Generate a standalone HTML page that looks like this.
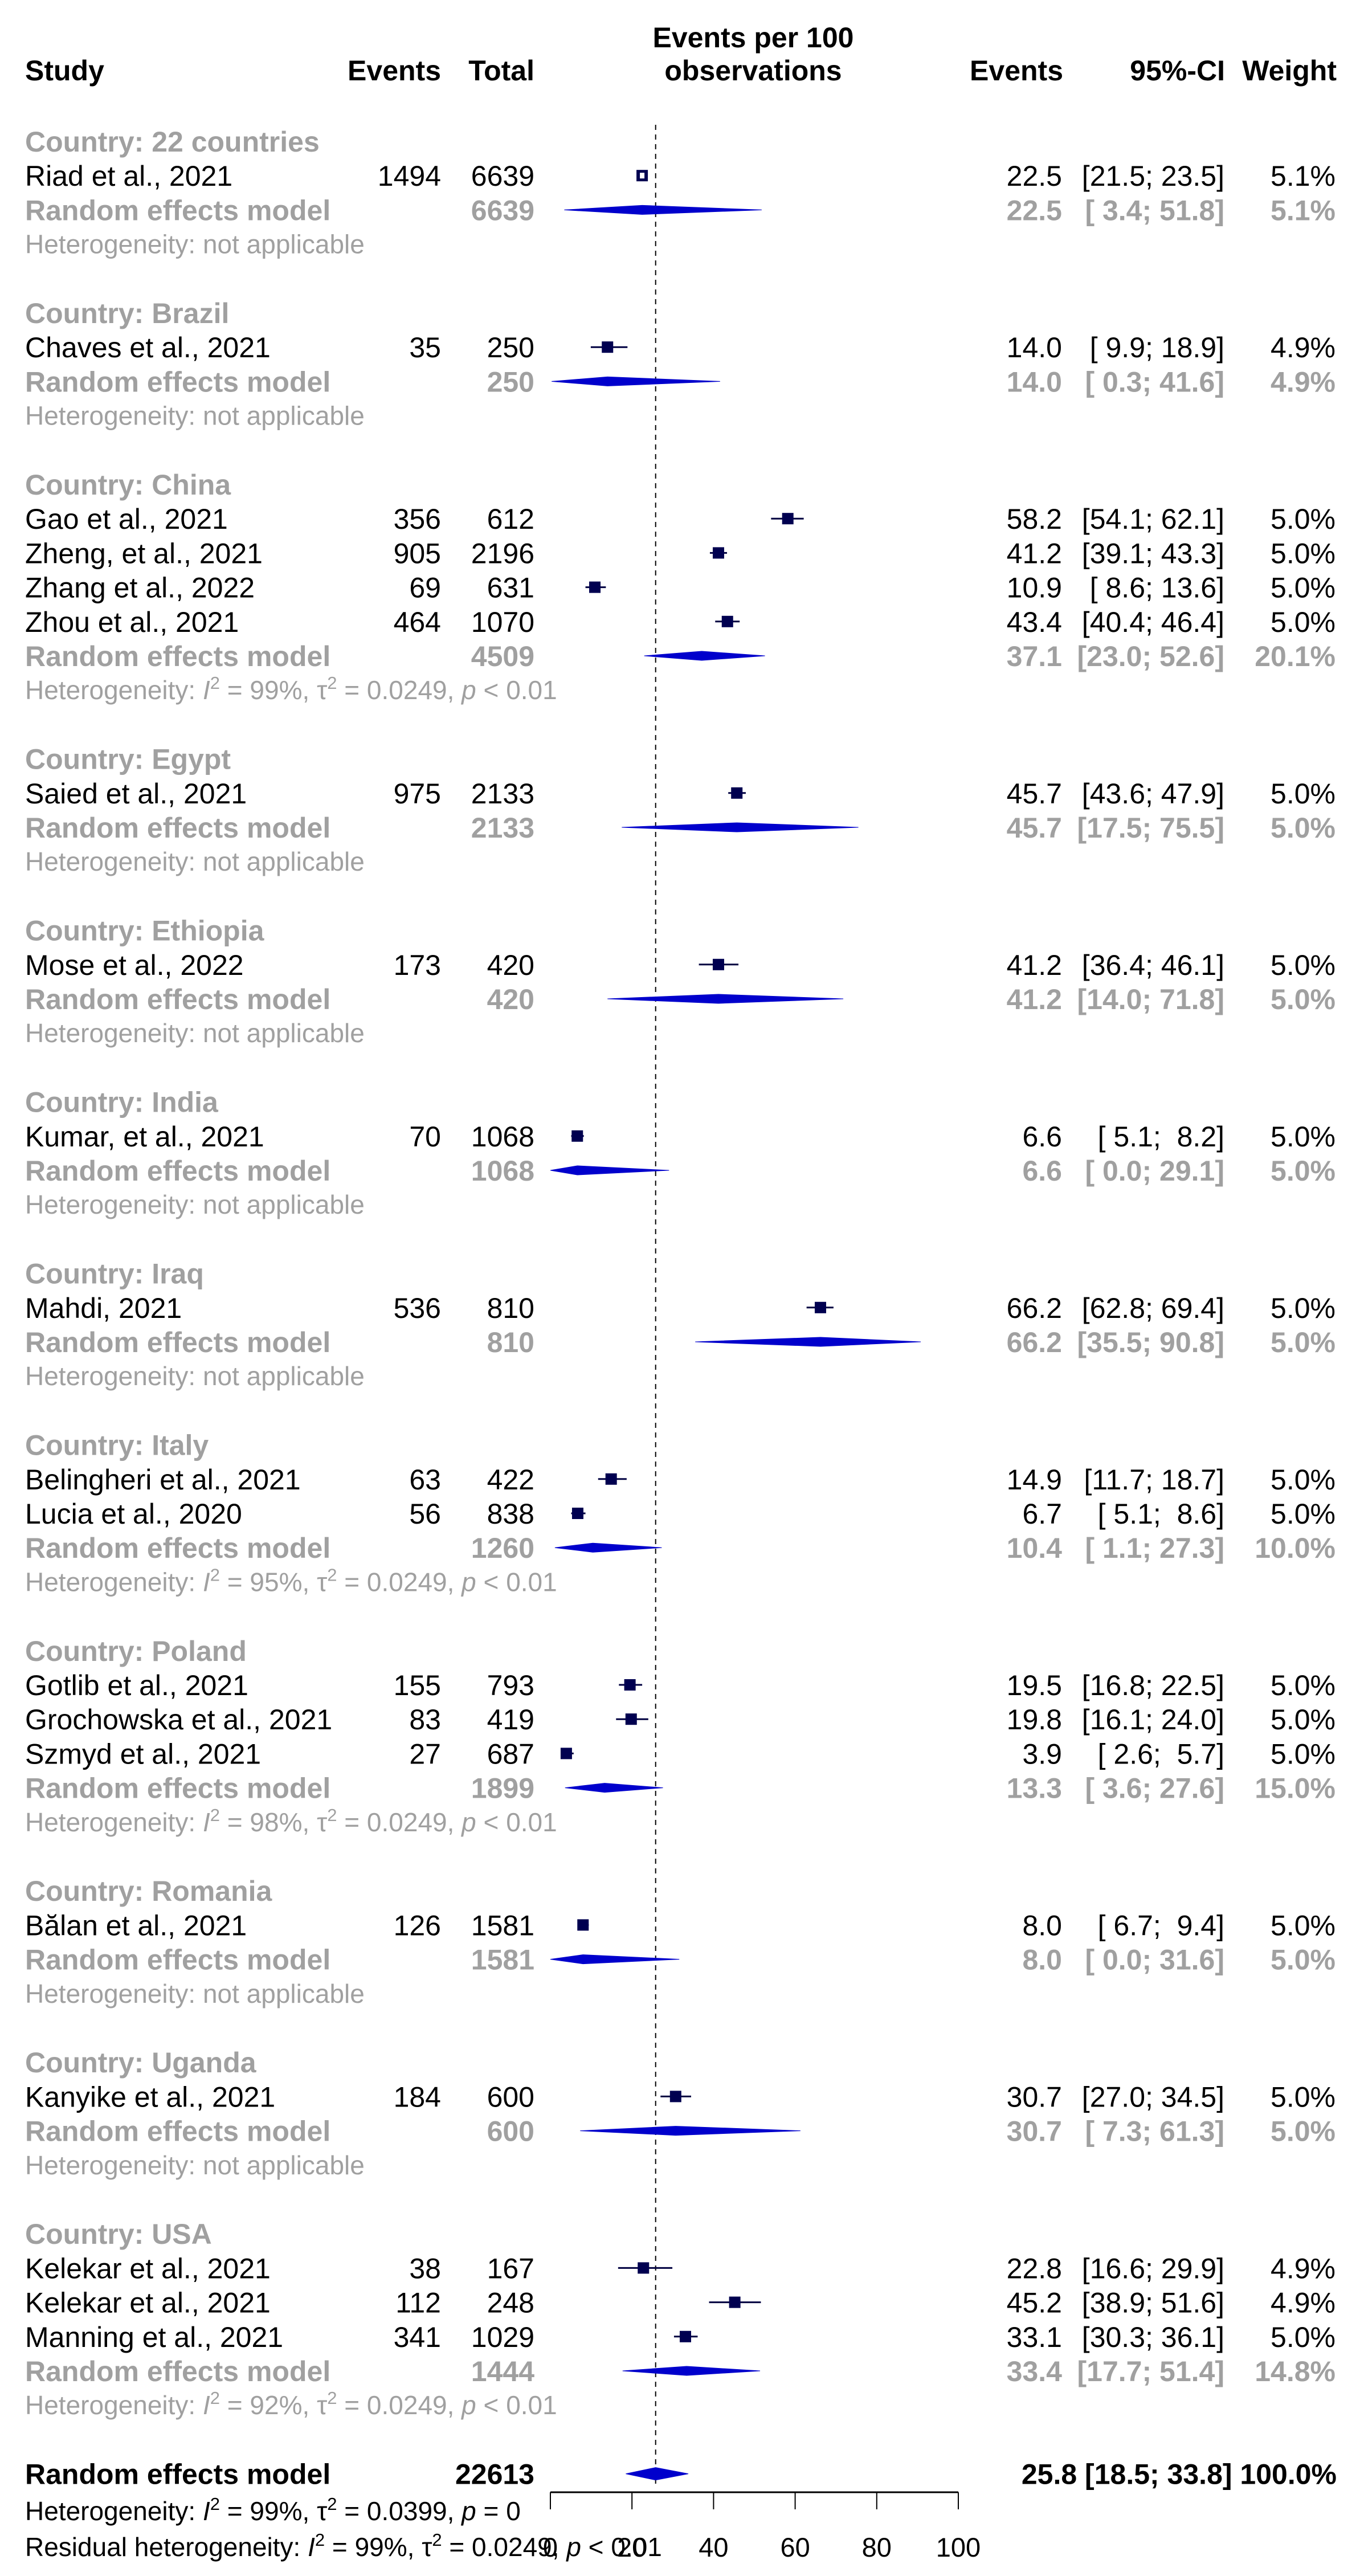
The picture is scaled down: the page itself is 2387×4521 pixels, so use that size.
<!DOCTYPE html>
<html><head><meta charset="utf-8"><style>
html,body{margin:0;padding:0;background:#fff;}
svg{display:block;font-family:"Liberation Sans",Arial,sans-serif;}
</style></head><body>
<svg id="plot" width="2387" height="4521" viewBox="0 0 2387 4521" xmlns="http://www.w3.org/2000/svg">
<g id="hdr" font-weight="bold" font-size="50" fill="#000">
<text x="44" y="141">Study</text>
<text x="774" y="141" text-anchor="end">Events</text>
<text x="938" y="141" text-anchor="end">Total</text>
<text x="1322" y="83" text-anchor="middle">Events per 100</text>
<text x="1322" y="141" text-anchor="middle">observations</text>
<text x="1866" y="141" text-anchor="end">Events</text>
<text x="2150" y="141" text-anchor="end">95%-CI</text>
<text x="2346" y="141" text-anchor="end">Weight</text>
</g>
<g id="rows"></g>
<g id="marks"></g>
<g id="axis"></g>
</svg>
<script>
// Data arrays
const groupNames = ["22 countries","Brazil","China","Egypt","Ethiopia","India","Iraq","Italy","Poland","Romania","Uganda","USA"];
const studyNames = [["Riad et al., 2021"],["Chaves et al., 2021"],["Gao et al., 2021","Zheng, et al., 2021","Zhang et al., 2022","Zhou et al., 2021"],["Saied et al., 2021"],["Mose et al., 2022"],["Kumar, et al., 2021"],["Mahdi, 2021"],["Belingheri et al., 2021","Lucia et al., 2020"],["Gotlib et al., 2021","Grochowska et al., 2021","Szmyd et al., 2021"],["Bălan et al., 2021"],["Kanyike et al., 2021"],["Kelekar et al., 2021","Kelekar et al., 2021","Manning et al., 2021"]];
const studyEvents = [[1494],[35],[356,905,69,464],[975],[173],[70],[536],[63,56],[155,83,27],[126],[184],[38,112,341]];
const studyTotals = [[6639],[250],[612,2196,631,1070],[2133],[420],[1068],[810],[422,838],[793,419,687],[1581],[600],[167,248,1029]];
const studyEst = [[22.5],[14.0],[58.2,41.2,10.9,43.4],[45.7],[41.2],[6.6],[66.2],[14.9,6.7],[19.5,19.8,3.9],[8.0],[30.7],[22.8,45.2,33.1]];
const studyLo = [[21.5],[9.9],[54.1,39.1,8.6,40.4],[43.6],[36.4],[5.1],[62.8],[11.7,5.1],[16.8,16.1,2.6],[6.7],[27.0],[16.6,38.9,30.3]];
const studyHi = [[23.5],[18.9],[62.1,43.3,13.6,46.4],[47.9],[46.1],[8.2],[69.4],[18.7,8.6],[22.5,24.0,5.7],[9.4],[34.5],[29.9,51.6,36.1]];
const studyWeight = [["5.1%"],["4.9%"],["5.0%","5.0%","5.0%","5.0%"],["5.0%"],["5.0%"],["5.0%"],["5.0%"],["5.0%","5.0%"],["5.0%","5.0%","5.0%"],["5.0%"],["5.0%"],["4.9%","4.9%","5.0%"]];
const groupTotal = [6639,250,4509,2133,420,1068,810,1260,1899,1581,600,1444];
const groupEst = [22.5,14.0,37.1,45.7,41.2,6.6,66.2,10.4,13.3,8.0,30.7,33.4];
const groupLo = [3.4,0.3,23.0,17.5,14.0,0.0,35.5,1.1,3.6,0.0,7.3,17.7];
const groupHi = [51.8,41.6,52.6,75.5,71.8,29.1,90.8,27.3,27.6,31.6,61.3,51.4];
const groupWeight = ["5.1%","4.9%","20.1%","5.0%","5.0%","5.0%","5.0%","10.0%","15.0%","5.0%","5.0%","14.8%"];
const groupI2 = [null,null,"99%",null,null,null,null,"95%","98%",null,null,"92%"];
const overall = {total:22613, est:25.8, lo:18.5, hi:33.8, weight:"100.0%"};
const ticks = [0,20,40,60,80,100];

const NS = "http://www.w3.org/2000/svg";
const xS = v => 966 + v * 7.16;
const yR = r => 248 + r * 60.2;
const GREY = "#a0a0a0";
const FS = 50, HFS = 46;
const rowsG = document.getElementById('rows');
const marksG = document.getElementById('marks');
const axisG = document.getElementById('axis');

function el(tag, attrs, parent){ const e=document.createElementNS(NS,tag); for(const k in attrs) e.setAttribute(k,attrs[k]); parent.appendChild(e); return e; }
function txt(s,x,y,opts,parent){ const t=el('text',Object.assign({x:x,y:y,'font-size':FS},opts||{}),parent); t.setAttribute('xml:space','preserve'); t.style.whiteSpace='pre'; t.textContent=s; return t; }
function fmt(v){ return v.toFixed(1); }
function ci(lo,hi){ const a=fmt(lo), b=fmt(hi); return "[" + (a.length<4?" ":"") + a + "; " + (b.length<4?" ":"") + b + "]"; }
function hetText(i2,y,parent,color,pText){
  const t=el('text',{x:44,y:y,'font-size':HFS,fill:color},parent);
  t.setAttribute('xml:space','preserve');
  const parts=[["Heterogeneity: ",{}],["I",{'font-style':'italic'}],["2",{'font-size':31,dy:-18}],[" = "+i2+", ",{dy:18}],["τ",{}],["2",{'font-size':31,dy:-18}],[" = 0.0249, ",{dy:18}],["p",{'font-style':'italic'}],[pText,{}]];
  parts.forEach(p=>{const s=el('tspan',p[1],t); s.textContent=p[0];});
  return t;
}
function diamond(est,lo,hi,y,h,parent){
  return el('polygon',{points:`${xS(lo)},${y} ${xS(est)},${y-h/2} ${xS(hi)},${y} ${xS(est)},${y+h/2}`,fill:'#0000cc',stroke:'#0000cc','stroke-width':1},parent);
}

const dl = el('line',{x1:xS(overall.est),x2:xS(overall.est),y1:219,y2:4362,stroke:'#000','stroke-width':2,'stroke-dasharray':'9,8'},marksG);



let r = 0;
groupNames.forEach((g,gi)=>{
  const gh = txt("Country: "+g,44,yR(r)+18,{fill:GREY,'font-weight':'bold'},rowsG);
  
  
  r++;
  studyNames[gi].forEach((s,si)=>{
    const y=yR(r);
    const row=el('g',{},rowsG);
    
    
    txt(s,44,y+18,{fill:'#000'},row);
    txt(String(studyEvents[gi][si]),774,y+18,{fill:'#000','text-anchor':'end'},row);
    txt(String(studyTotals[gi][si]),938,y+18,{fill:'#000','text-anchor':'end'},row);
    txt(fmt(studyEst[gi][si]),1864,y+18,{fill:'#000','text-anchor':'end'},row);
    txt(ci(studyLo[gi][si],studyHi[gi][si]),2149,y+18,{fill:'#000','text-anchor':'end'},row);
    txt(studyWeight[gi][si],2344,y+18,{fill:'#000','text-anchor':'end'},row);
    const ln=el('line',{x1:xS(studyLo[gi][si]),x2:xS(studyHi[gi][si]),y1:y,y2:y,stroke:'#000040','stroke-width':3},marksG);
    
    
    const sz = 20;
    const sq=el('rect',{x:xS(studyEst[gi][si])-sz/2,y:y-sz/2,width:sz,height:sz,fill:'#000050'},marksG);
    
    
    if (studyHi[gi][si]-studyLo[gi][si] < 2.5) {
      const inner=el('rect',{x:xS(studyEst[gi][si])-4,y:y-5,width:8,height:10,fill:'#fff'},marksG);
      
      
    }
    r++;
  });
  const y=yR(r);
  const rem=el('g',{'font-weight':'bold'},rowsG);
  
  
  txt("Random effects model",44,y+18,{fill:GREY},rem);
  txt(String(groupTotal[gi]),938,y+18,{fill:GREY,'text-anchor':'end'},rem);
  txt(fmt(groupEst[gi]),1864,y+18,{fill:GREY,'text-anchor':'end'},rem);
  txt(ci(groupLo[gi],groupHi[gi]),2149,y+18,{fill:GREY,'text-anchor':'end'},rem);
  txt(groupWeight[gi],2344,y+18,{fill:GREY,'text-anchor':'end'},rem);
  const d=diamond(groupEst[gi],groupLo[gi],groupHi[gi],y,16,marksG);
  
  
  r++;
  const hy=yR(r)+16;
  let h;
  if (groupI2[gi]) h=hetText(groupI2[gi],hy,rowsG,GREY," < 0.01");
  else { h=txt("Heterogeneity: not applicable",44,hy,{fill:GREY,'font-size':HFS},rowsG); }
  
  
  r+=2;
});

{
  const y=yR(68);
  const og=el('g',{'font-weight':'bold'},rowsG);
  
  
  txt("Random effects model",44,y+18,{fill:'#000'},og);
  txt(String(overall.total),938,y+18,{fill:'#000','text-anchor':'end'},og);
  txt(fmt(overall.est)+" "+ci(overall.lo,overall.hi)+" "+overall.weight,2346,y+18,{fill:'#000','text-anchor':'end'},og);
  const d=diamond(overall.est,overall.lo,overall.hi,y,22,marksG);
  
  
  const h1=hetText("99%",4423,rowsG,'#000',"");
  h1.lastChild.textContent=" = 0";
  h1.childNodes[6].textContent=" = 0.0399, ";
  
  
  const h2=hetText("99%",4486,rowsG,'#000'," < 0.01");
  h2.firstChild.textContent="Residual heterogeneity: ";
  
  
}

{
  const ay=4374;
  const ax=el('line',{x1:xS(ticks[0]),x2:xS(ticks[ticks.length-1]),y1:ay,y2:ay,stroke:'#000','stroke-width':3},axisG);
  
  
  ticks.forEach(t=>{
    const tk=el('line',{x1:xS(t),x2:xS(t),y1:ay,y2:ay+30,stroke:'#000','stroke-width':2},axisG);
    
    
    const lb=txt(String(t),xS(t),4487,{fill:'#000','text-anchor':'middle','font-size':47},axisG);
    
    
  });
}
</script>
</body></html>
